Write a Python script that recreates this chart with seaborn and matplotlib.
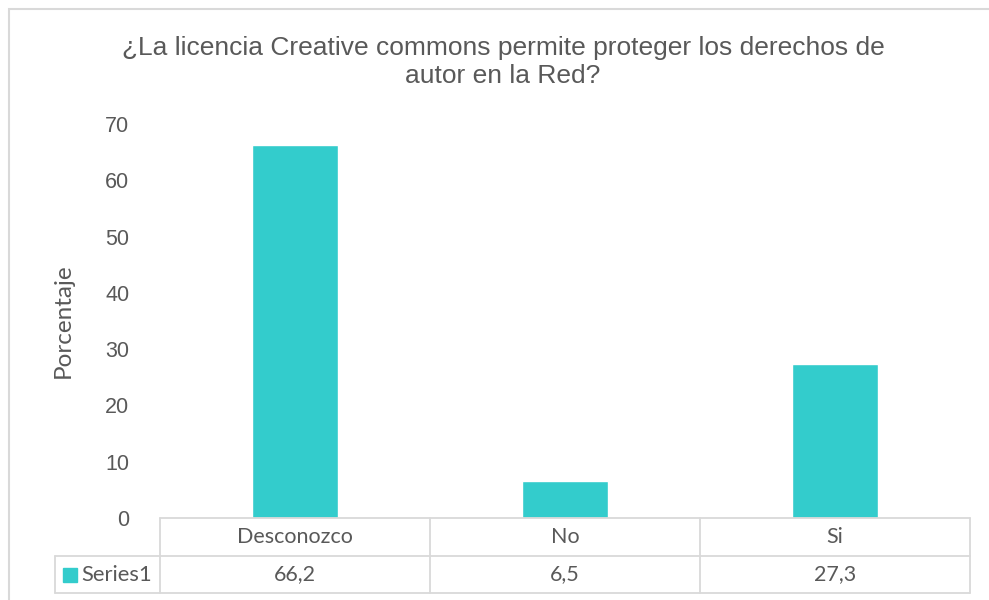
import matplotlib
matplotlib.use("Agg")
import matplotlib.pyplot as plt
import seaborn as sns
import pandas as pd
from matplotlib.patches import Rectangle
from matplotlib.lines import Line2D

# datos del gráfico
categorias = ["Desconozco", "No", "Si"]
valores = [66.2, 6.5, 27.3]
etiquetas_valores = ["66,2", "6,5", "27,3"]
nombre_serie = "Series1"
titulo = "¿La licencia Creative commons permite proteger los derechos de\nautor en la Red?"

df = pd.DataFrame({"categoria": categorias, "valor": valores})

sns.set_style("white")
plt.rcParams["font.family"] = ["Liberation Sans", "DejaVu Sans"]

color_barra = "#33CCCC"
gris_texto = "#595959"
gris_linea = "#D9D9D9"

W, H = 989, 600
fig = plt.figure(figsize=(W / 100, H / 100), dpi=100)

# area del grafico (pixeles -> fracciones)
izq, der, arriba, abajo = 160, 970, 124, 518
ax = fig.add_axes([izq / W, 1 - abajo / H, (der - izq) / W, (abajo - arriba) / H])

sns.barplot(data=df, x="categoria", y="valor", color=color_barra, width=0.315,
            saturation=1, ax=ax)

ax.set_xlim(-0.5, 2.5)
ax.set_ylim(0, 70)
ax.set_yticks(range(0, 71, 10))
ax.tick_params(axis="y", length=0, pad=22, labelsize=15.5, labelcolor=gris_texto)
ax.set_xticks([])
ax.set_xlabel("")
ax.set_ylabel("Porcentaje", fontsize=17.5, color=gris_texto, family="Lato", labelpad=23)
for s in ax.spines.values():
    s.set_visible(False)

# tabla de datos debajo del eje
trans = ax.get_xaxis_transform()
alto_fila = 37.5 / (abajo - arriba)
x_serie = -0.5 - 105 / 270
lw = 1.3

# lineas horizontales
ax.add_line(Line2D([-0.5, 2.5], [0, 0], transform=trans, color=gris_linea, lw=lw, clip_on=False))
ax.add_line(Line2D([x_serie, 2.5], [-alto_fila, -alto_fila], transform=trans, color=gris_linea, lw=lw, clip_on=False))
ax.add_line(Line2D([x_serie, 2.5], [-2 * alto_fila, -2 * alto_fila], transform=trans, color=gris_linea, lw=lw, clip_on=False))
# lineas verticales
for xb in [-0.5, 0.5, 1.5, 2.5]:
    ax.add_line(Line2D([xb, xb], [0, -2 * alto_fila], transform=trans, color=gris_linea, lw=lw, clip_on=False))
ax.add_line(Line2D([x_serie, x_serie], [-alto_fila, -2 * alto_fila], transform=trans, color=gris_linea, lw=lw, clip_on=False))

for i, (cat, etq) in enumerate(zip(categorias, etiquetas_valores)):
    ax.text(i, -0.5 * alto_fila, cat, transform=trans, ha="center", va="center",
            fontsize=15.5, color=gris_texto, family="Lato")
    ax.text(i, -1.5 * alto_fila, etq, transform=trans, ha="center", va="center",
            fontsize=15.5, color=gris_texto, family="Lato")

# clave de leyenda + nombre de serie
fig.patches.append(Rectangle((63 / W, 1 - 582 / H), 14 / W, 14 / H,
                             transform=fig.transFigure, color=color_barra))
fig.text(81 / W, 1 - 575 / H, nombre_serie, ha="left", va="center",
         fontsize=15.8, color=gris_texto, family="Lato")

# titulo
fig.text(503 / W, 1 - 62 / H, titulo, ha="center", va="center", fontsize=19,
         color=gris_texto, linespacing=1.2)

# marco del grafico
fig.patches.append(Rectangle((9 / W, -0.05), 1.1, 1 - 9 / H + 0.05,
                             transform=fig.transFigure, fill=False,
                             edgecolor=gris_linea, lw=1.5))

fig.savefig("out.png", dpi=100)
